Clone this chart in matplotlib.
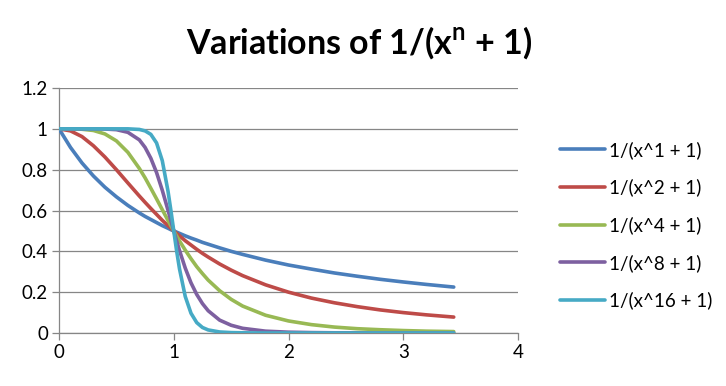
import matplotlib
matplotlib.use("Agg")
import matplotlib.pyplot as plt

plt.rcParams["font.family"] = ["Lato", "DejaVu Sans"]

# valores
x = [0, 0.1, 0.2, 0.3, 0.4, 0.5, 0.6, 0.7, 0.75, 0.8, 0.85, 0.9, 0.95, 0.975,
     1.0, 1.025, 1.05, 1.1, 1.15, 1.2, 1.25, 1.3, 1.4, 1.5, 1.6, 1.8, 2.0,
     2.2, 2.4, 2.6, 2.8, 3.0, 3.2, 3.44]

y1 = [1.000, 0.909, 0.833, 0.769, 0.714, 0.667, 0.625, 0.588, 0.571, 0.556,
      0.541, 0.526, 0.513, 0.506, 0.500, 0.494, 0.488, 0.476, 0.465, 0.455,
      0.444, 0.435, 0.417, 0.400, 0.385, 0.357, 0.333, 0.313, 0.294, 0.278,
      0.263, 0.250, 0.238, 0.225]
y2 = [1.000, 0.990, 0.962, 0.917, 0.862, 0.800, 0.735, 0.671, 0.640, 0.610,
      0.581, 0.552, 0.526, 0.513, 0.500, 0.488, 0.476, 0.452, 0.431, 0.410,
      0.390, 0.372, 0.338, 0.308, 0.281, 0.236, 0.200, 0.171, 0.148, 0.129,
      0.113, 0.100, 0.089, 0.078]
y4 = [1.000, 1.000, 0.998, 0.992, 0.975, 0.941, 0.885, 0.806, 0.760, 0.709,
      0.657, 0.604, 0.551, 0.525, 0.500, 0.475, 0.451, 0.406, 0.364, 0.325,
      0.291, 0.259, 0.207, 0.165, 0.132, 0.087, 0.059, 0.041, 0.029, 0.021,
      0.016, 0.012, 0.009, 0.007]
y8 = [1.000, 1.000, 1.000, 1.000, 0.999, 0.996, 0.983, 0.946, 0.909, 0.856,
      0.786, 0.699, 0.601, 0.550, 0.500, 0.451, 0.404, 0.318, 0.246, 0.189,
      0.144, 0.109, 0.063, 0.038, 0.023, 0.009, 0.004, 0.002, 0.001, 0.001,
      0.000, 0.000, 0.000, 0.000]
y16 = [1.000, 1.000, 1.000, 1.000, 1.000, 1.000, 1.000, 0.997, 0.990, 0.973,
       0.931, 0.844, 0.694, 0.600, 0.500, 0.402, 0.314, 0.179, 0.097, 0.051,
       0.027, 0.015, 0.005, 0.002, 0.001, 0.000, 0.000, 0.000, 0.000, 0.000,
       0.000, 0.000, 0.000, 0.000]

series = [y1, y2, y4, y8, y16]
nomes = ["1/(x^1 + 1)", "1/(x^2 + 1)", "1/(x^4 + 1)", "1/(x^8 + 1)",
         "1/(x^16 + 1)"]
cores = ["#4A7EBB", "#BE4B48", "#98B954", "#7D60A0", "#46AAC5"]

fig = plt.figure(figsize=(7.26, 3.86), dpi=100)
ax = fig.add_axes([0.0813, 0.1373, 0.6322, 0.6347])

for y, nome, cor in zip(series, nomes, cores):
    ax.plot(x, y, color=cor, linewidth=2.6, label=nome,
            solid_capstyle="round", zorder=3)

ax.set_xlim(0, 4)
ax.set_ylim(0, 1.2)
ax.set_xticks([0, 1, 2, 3, 4])
ax.set_yticks([0, 0.2, 0.4, 0.6, 0.8, 1, 1.2])
ax.set_yticklabels(["0", "0.2", "0.4", "0.6", "0.8", "1", "1.2"])

ax.grid(axis="y", color="#868686", linewidth=0.9)
ax.set_axisbelow(True)
for lado in ["top", "right"]:
    ax.spines[lado].set_visible(False)
for lado in ["left", "bottom"]:
    ax.spines[lado].set_color("#868686")
    ax.spines[lado].set_linewidth(0.9)
ax.tick_params(axis="both", color="#868686", length=5, width=0.9,
               labelsize=13.5, pad=3)

ax.legend(loc="center left", bbox_to_anchor=(1.055, 0.44), frameon=False,
          fontsize=13.5, handlelength=2.4, labelspacing=1.05,
          handletextpad=0.2)

fig.text(0.495, 0.89, r"Variations of 1/(x$^{\mathregular{n}}$ + 1)",
         ha="center", va="center", fontsize=24.5, fontweight="bold")

fig.savefig("out.png", dpi=100)
